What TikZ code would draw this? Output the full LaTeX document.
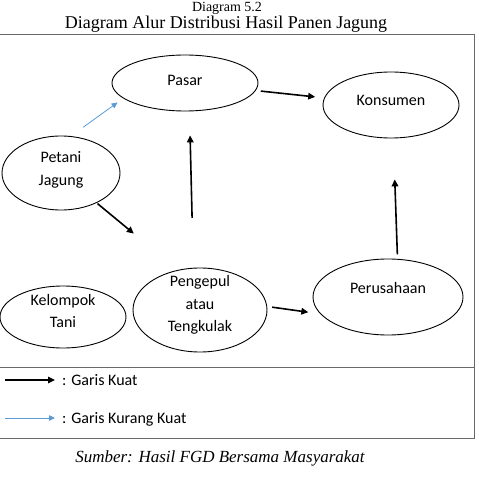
\documentclass[tikz,border=0pt]{standalone}
\usepackage{fontspec}
\setmainfont{Liberation Serif}
\newfontfamily\calibri{Carlito}
\usetikzlibrary{arrows.meta,shapes.geometric}
\definecolor{garisbiru}{RGB}{91,155,213}
\definecolor{bingkai}{RGB}{105,105,105}

\tikzset{
  tahap/.style={draw,ellipse,line width=.9pt,inner sep=0pt},
  isi/.style={font=\calibri\fontsize{16}{22.5}\selectfont,align=center,inner sep=0pt},
  kuat/.style={line width=1.6pt,-{Triangle[length=7pt,width=6.5pt]}},
  lemah/.style={line width=.8pt,garisbiru,-{Triangle[length=6pt,width=5.5pt]}},
}

\begin{document}
\begin{tikzpicture}[x=1pt,y=-1pt]
\useasboundingbox (0,0) rectangle (479,478);
% judul
\node[font=\fontsize{14}{16}\selectfont,anchor=base,inner sep=0pt] (judul) at (227,12) {Diagram 5.2};
\node[font=\fontsize{18}{20}\selectfont,anchor=base,inner sep=0pt] (subjudul) at (226,29) {Diagram Alur Distribusi Hasil Panen Jagung};
%
\draw[bingkai,line width=.8pt] (-2,34) rectangle (474,438);
\draw[bingkai,line width=.8pt] (-2,367) -- (474,367);
%
\node[tahap,minimum width=146pt,minimum height=56pt] (pasar) at (185,83) {};
\node[tahap,minimum width=136pt,minimum height=66pt] (konsumen) at (391,105) {};
\node[tahap,minimum width=118pt,minimum height=74pt] (petani) at (61,173) {};
\node[tahap,minimum width=126pt,minimum height=62pt] (kelompok) at (63,317) {};
\node[tahap,minimum width=134pt,minimum height=84pt] (pengepul) at (200,310) {};
\node[tahap,minimum width=150pt,minimum height=76pt] (perusahaan) at (388,297) {};
%
\node[isi] (pasar-t) at (185,80) {Pasar};
\node[isi] (konsumen-t) at (391,100) {Konsumen};
\node[isi] (petani-t) at (61,170) {Petani\\Jagung};
\node[isi] (kelompok-t) at (63,311) {Kelompok\\Tani};
\node[isi] (pengepul-t) at (200,305) {Pengepul\\atau\\Tengkulak};
\node[isi] (perusahaan-t) at (388,288) {Perusahaan};
%
\draw[kuat,shorten <=5pt,shorten >=9pt] (pasar) -- (konsumen);
\draw[kuat,shorten <=1pt,shorten >=57pt] (petani.-40) -- (pengepul.119);
\draw[kuat,shorten <=50pt,shorten >=24pt] (pengepul.99) -- (pasar.-81);
\draw[kuat,shorten <=5pt,shorten >=12pt] (pengepul.3) -- (perusahaan.194);
\draw[kuat,shorten <=4.5pt,shorten >=41pt] (perusahaan.76) -- (konsumen.-86);
\draw[lemah,shorten <=15pt,shorten >=7pt] (petani.75) -- (pasar.194);
%
\coordinate (kuat0) at (5,380);
\coordinate (kuat1) at (55,380);
\coordinate (lemah0) at (5,418);
\coordinate (lemah1) at (55,418);
\draw[kuat] (kuat0) -- (kuat1);
\draw[lemah] (lemah0) -- (lemah1);
\node[isi,anchor=base west] (ket-kuat) at (62,385) {: Garis Kuat};
\node[isi,anchor=base west] (ket-lemah) at (62,423) {: Garis Kurang Kuat};
%
\node[font=\itshape\fontsize{17}{20}\selectfont,anchor=base] (sumber) at (220,462) {Sumber: Hasil FGD Bersama Masyarakat};
\end{tikzpicture}
\end{document}
